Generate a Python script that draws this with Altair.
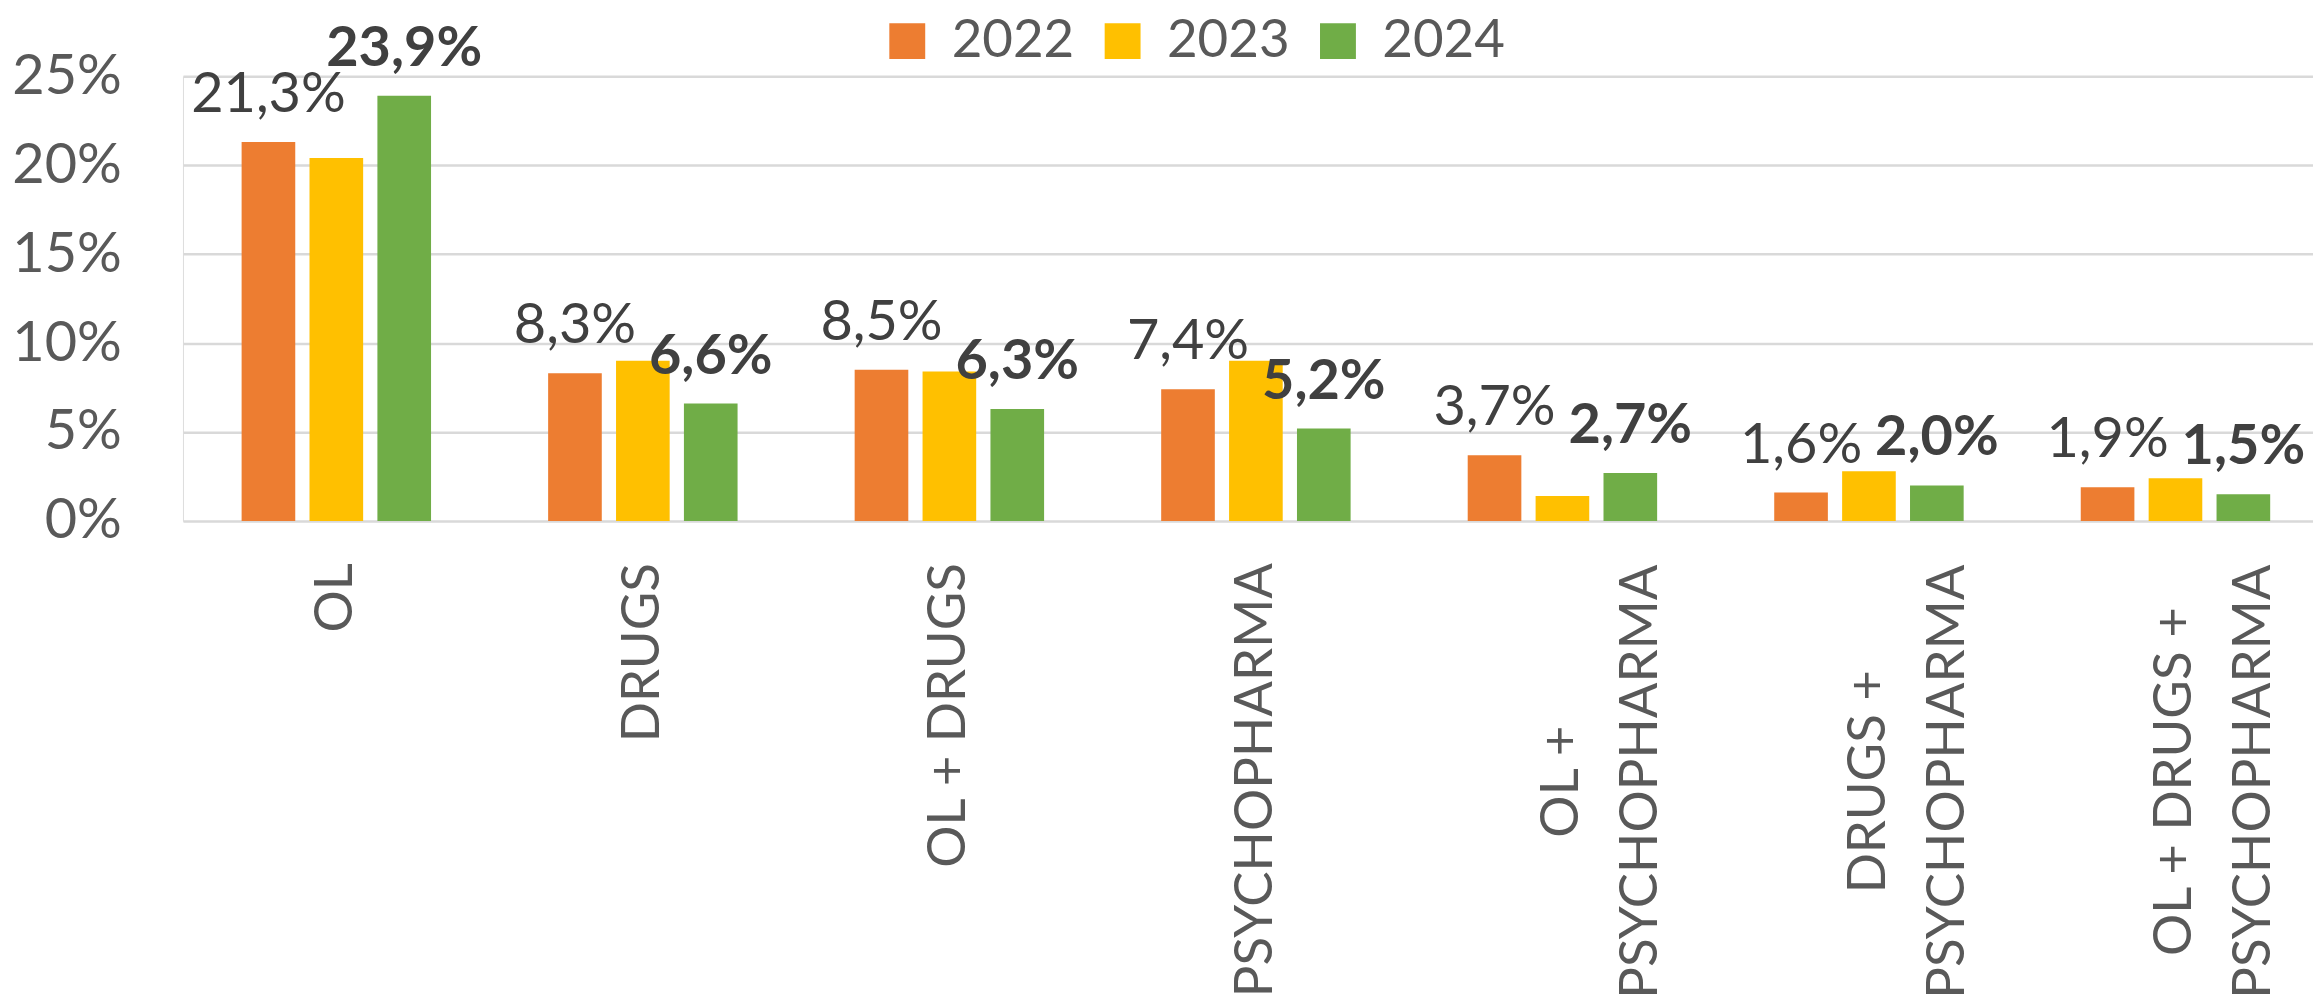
import altair as alt
import pandas as pd

categories = ["OL", "DRUGS", "OL + DRUGS", "PSYCHOPHARMA",
              "OL + PSYCHOPHARMA", "DRUGS + PSYCHOPHARMA", "OL + DRUGS + PSYCHOPHARMA"]
years = ["2022", "2023", "2024"]
v2022 = [21.3, 8.3, 8.5, 7.4, 3.7, 1.6, 1.9]
v2023 = [20.4, 9.0, 8.4, 9.0, 1.4, 2.8, 2.4]
v2024 = [23.9, 6.6, 6.3, 5.2, 2.7, 2.0, 1.5]
colors = ["#ED7D31", "#FFC000", "#70AD47"]
y_ticks = [0, 0.05, 0.10, 0.15, 0.20, 0.25]

rows = []
for yr, vals in zip(years, [v2022, v2023, v2024]):
    for c, v in zip(categories, vals):
        rows.append({"cat": c, "year": yr, "value": v / 100.0,
                     "label": f"{v:.1f}".replace(".", ",") + "%"})
df = pd.DataFrame(rows)

FONT = "Lato"
W, H = 2136.5, 446

x_enc = alt.X("cat:N", sort=categories, title=None,
              scale=alt.Scale(paddingInner=0.382, paddingOuter=0.1655, align=0.578),
              axis=alt.Axis(
                  labelAngle=-90,
                  labelExpr="indexof(datum.value, ' + PSYCHOPHARMA') > 0 ? [replace(datum.value, ' PSYCHOPHARMA', ''), 'PSYCHOPHARMA'] : datum.value",
                  labelAlign={"condition": {"test": "indexof(datum.value, ' + PSYCHOPHARMA') > 0", "value": "center"}, "value": "right"},
                  labelPadding={"condition": {"test": "indexof(datum.value, ' + PSYCHOPHARMA') > 0", "value": 261}, "value": 41.7},
                  labelBaseline="middle",
                  labelLineHeight=79,
                  labelFont=FONT, labelFontSize=53, labelColor="#595959",
                  ticks=False, tickSize=0, domain=False, grid=False,
                  labelOverlap=False, labelLimit=0))
xoff = alt.XOffset("year:N", scale=alt.Scale(domain=years, paddingInner=0.21, paddingOuter=0))
y_enc = alt.Y("value:Q", title=None,
              scale=alt.Scale(domain=[0, 0.25], nice=False),
              axis=alt.Axis(values=y_ticks, format=".0%", labelFont=FONT, labelFontSize=56,
                            labelColor="#595959", ticks=False, tickSize=0, domain=False,
                            labelPadding=61.8, gridColor="#d9d9d9", gridWidth=2.5))

base = alt.Chart(df)

bars = base.mark_bar().encode(
    x=x_enc, xOffset=xoff, y=y_enc,
    color=alt.Color("year:N", scale=alt.Scale(domain=years, range=colors),
                    legend=alt.Legend(orient="none", legendX=700, legendY=-62,
                                      direction="horizontal", title=None,
                                      symbolType="square", symbolSize=1296,
                                      symbolStrokeWidth=0, symbolOpacity=1,
                                      labelFont=FONT, labelFontSize=53, labelColor="#595959",
                                      labelOffset=18, columnPadding=22, padding=0))
)

lab22 = base.transform_filter("datum.year == '2022'").mark_text(
    font=FONT, fontSize=56, color="#404040", baseline="alphabetic", dy=-30
).encode(x=alt.X("cat:N", sort=categories), xOffset=xoff, y="value:Q", text="label:N")

lab24 = base.transform_filter("datum.year == '2024'").mark_text(
    font=FONT, fontSize=56, fontWeight="bold", color="#404040", baseline="alphabetic", dy=-30
).encode(x=alt.X("cat:N", sort=categories), xOffset=xoff, y="value:Q", text="label:N")

chart = alt.layer(bars, lab22, lab24).properties(
    width=W, height=H,
    autosize=alt.AutoSizeParams(type="none"),
    padding={"left": 175.5, "top": 67, "right": 0, "bottom": 478},
).configure_view(stroke=None).configure(background="white")

chart.save("out.html", embed_options={"renderer": "svg", "actions": False})
